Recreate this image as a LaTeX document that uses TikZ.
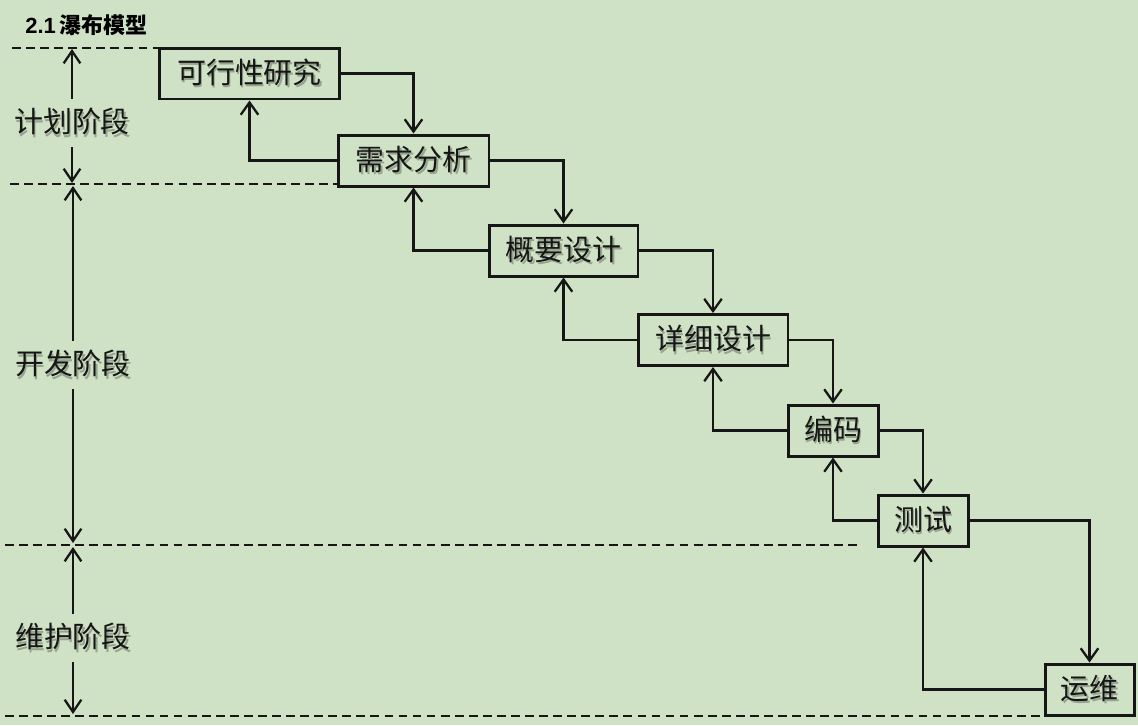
\documentclass[tikz,border=0pt]{standalone}
\usepackage{fontspec}
\setmainfont{Noto Sans CJK SC}
\newfontfamily\latinsans{Liberation Sans}
\usetikzlibrary{arrows.meta}

\definecolor{bg}{RGB}{208,226,197}
\definecolor{ink}{RGB}{22,22,22}
\colorlet{textshade}{bg!72!black}

% text with a soft drop shadow
\newcommand\shadetext[1]{\makebox[0pt][l]{\hspace{1.1pt}\raisebox{-1.3pt}{\color{textshade}#1}}#1}

\begin{document}
\begin{tikzpicture}[x=0.02cm,y=-0.02cm,
  stagebox/.style={draw=ink, line width=1.7pt, fill=bg, inner sep=0pt,
    minimum height=1.02cm, text=ink, font=\fontsize{16.5pt}{18pt}\selectfont},
  phaselabel/.style={inner sep=0pt, outer xsep=0pt, outer ysep=5.6pt, text=ink,
    font=\fontsize{16.5pt}{18pt}\selectfont},
  flow/.style={draw=ink, line width=1.3pt, -{Straight Barb[length=7pt,width=10pt]}},
  phasearrow/.style={draw=ink, line width=1.3pt, -{Straight Barb[length=7pt,width=9.5pt]}},
  boundary/.style={draw=ink, line width=1.2pt, dash pattern=on 5pt off 3pt}
]
\useasboundingbox[fill=bg] (0,0) rectangle (1138,725);

% title
\node[anchor=west, inner sep=0pt, text=black] (title) at (25,25)
  {\fontsize{12.5pt}{14pt}\selectfont{\latinsans\bfseries 2.1}\,\bfseries 瀑布模型};

% phase boundaries
\coordinate (b1s) at (12,48);   \coordinate (b1e) at (158,48);
\coordinate (b2s) at (10,184);  \coordinate (b2e) at (337,184);
\coordinate (b3s) at (5,545);   \coordinate (b3e) at (862,545);
\coordinate (b4s) at (5,716);   \coordinate (b4e) at (1040,716);
\draw[boundary] (b1s) -- (b1e);
\draw[boundary] (b2s) -- (b2e);
\draw[boundary] (b3s) -- (b3e);
\draw[boundary] (b4s) -- (b4e);

% phase labels with their extent arrows
\coordinate (p1top) at (71,49);  \coordinate (p1bot) at (71,183);
\coordinate (p2top) at (71,186); \coordinate (p2bot) at (71,543);
\coordinate (p3top) at (71,547); \coordinate (p3bot) at (71,714);
\node[phaselabel] (plan)  at (72,123) {\shadetext{计划阶段}};
\node[phaselabel] (dev)   at (73,365) {\shadetext{开发阶段}};
\node[phaselabel] (maint) at (73,638) {\shadetext{维护阶段}};
\draw[phasearrow] (plan.north) -- (plan.north |- p1top);
\draw[phasearrow] (plan.south) -- (plan.south |- p1bot);
\draw[phasearrow] (dev.north) -- (dev.north |- p2top);
\draw[phasearrow] (dev.south) -- (dev.south |- p2bot);
\draw[phasearrow] (maint.north) -- (maint.north |- p3top);
\draw[phasearrow] (maint.south) -- (maint.south |- p3bot);

% stages
\node[stagebox, minimum width=3.62cm] (feas)   at (249.5,73.5)  {\shadetext{可行性研究}};
\node[stagebox, minimum width=3.02cm] (req)    at (413.5,160.5) {\shadetext{需求分析}};
\node[stagebox, minimum width=2.98cm] (arch)   at (563.5,250.5) {\shadetext{概要设计}};
\node[stagebox, minimum width=3.00cm] (detail) at (713,340)     {\shadetext{详细设计}};
\node[stagebox, minimum width=1.80cm] (code)   at (833,430.5)   {\shadetext{编码}};
\node[stagebox, minimum width=1.80cm] (test)   at (923,520.5)   {\shadetext{测试}};
\node[stagebox, minimum width=1.78cm] (ops)    at (1089.5,689.5) {\shadetext{运维}};

% forward flow
\draw[flow] (feas.east)   -| (req.north);
\draw[flow] (req.east)    -| (arch.north);
\draw[flow] (arch.east)   -| (detail.north);
\draw[flow] (detail.east) -| (code.north);
\draw[flow] (code.east)   -| (test.north);
\draw[flow] (test.east)   -| (ops.north);

% feedback
\draw[flow] (req.west)    -| (feas.south);
\draw[flow] (arch.west)   -| (req.south);
\draw[flow] (detail.west) -| (arch.south);
\draw[flow] (code.west)   -| (detail.south);
\draw[flow] (test.west)   -| (code.south);
\draw[flow] (ops.west)    -| (test.south);
\end{tikzpicture}
\end{document}
